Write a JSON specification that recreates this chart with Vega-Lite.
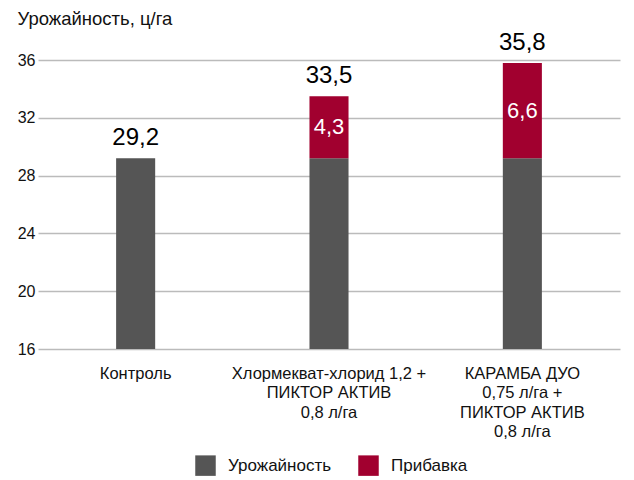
{
  "$schema": "https://vega.github.io/schema/vega-lite/v6.json",
  "width": 582,
  "height": 289,
  "autosize": {"type": "none"},
  "padding": {"left": 38, "top": 60, "right": 14, "bottom": 131},
  "background": "white",
  "config": {
    "view": {"stroke": null},
    "font": "Liberation Sans",
    "axis": {"labelFont": "Liberation Sans", "titleFont": "Liberation Sans"},
    "legend": {"labelFont": "Liberation Sans"}
  },
  "datasets": {
    "bars": [
      {"group": "Контроль", "type": "Урожайность", "ord": 1, "value": 29.2},
      {"group": "Хлормекват-хлорид 1,2 +\nПИКТОР АКТИВ\n0,8 л/га", "type": "Урожайность", "ord": 1, "value": 29.2},
      {"group": "Хлормекват-хлорид 1,2 +\nПИКТОР АКТИВ\n0,8 л/га", "type": "Прибавка", "ord": 2, "value": 4.3},
      {"group": "КАРАМБА ДУО\n0,75 л/га +\nПИКТОР АКТИВ\n0,8 л/га", "type": "Урожайность", "ord": 1, "value": 29.2},
      {"group": "КАРАМБА ДУО\n0,75 л/га +\nПИКТОР АКТИВ\n0,8 л/га", "type": "Прибавка", "ord": 2, "value": 6.6}
    ],
    "totals": [
      {"group": "Контроль", "total": 29.2, "label": "29,2"},
      {"group": "Хлормекват-хлорид 1,2 +\nПИКТОР АКТИВ\n0,8 л/га", "total": 33.5, "label": "33,5"},
      {"group": "КАРАМБА ДУО\n0,75 л/га +\nПИКТОР АКТИВ\n0,8 л/га", "total": 35.8, "label": "35,8"}
    ],
    "adds": [
      {"group": "Хлормекват-хлорид 1,2 +\nПИКТОР АКТИВ\n0,8 л/га", "mid": 31.35, "label": "4,3"},
      {"group": "КАРАМБА ДУО\n0,75 л/га +\nПИКТОР АКТИВ\n0,8 л/га", "mid": 32.5, "label": "6,6"}
    ]
  },
  "encoding": {
    "x": {
      "field": "group",
      "type": "nominal",
      "sort": null,
      "scale": {"paddingInner": 0.798, "paddingOuter": 0.404},
      "axis": {
        "title": null,
        "labelAngle": 0,
        "domain": false,
        "ticks": false,
        "labelFontSize": 16.5,
        "labelColor": "#111",
        "labelPadding": 16,
        "labelLineHeight": 19.5,
        "labelLimit": 400,
        "labelOverlap": false,
        "labelExpr": "split(datum.value, '\\n')"
      }
    }
  },
  "layer": [
    {
      "data": {"name": "bars"},
      "mark": {"type": "bar", "clip": true},
      "encoding": {
        "y": {
          "field": "value",
          "type": "quantitative",
          "stack": "zero",
          "scale": {"domain": [16, 36], "zero": false, "nice": false},
          "axis": {
            "title": "Урожайность, ц/га",
            "titleAngle": 0,
            "titleAlign": "left",
            "titleBaseline": "alphabetic",
            "titleX": -21,
            "titleY": -36,
            "titleFontSize": 18.5,
            "titleFontWeight": "normal",
            "titleColor": "#111",
            "values": [16, 20, 24, 28, 32, 36],
            "domain": false,
            "ticks": false,
            "labelFontSize": 16,
            "labelColor": "#111",
            "labelPadding": 3,
            "gridColor": "#bbbbbb",
            "gridWidth": 1.5
          }
        },
        "order": {"field": "ord"},
        "color": {
          "field": "type",
          "type": "nominal",
          "sort": ["Урожайность", "Прибавка"],
          "scale": {"domain": ["Урожайность", "Прибавка"], "range": ["#555555", "#a1002f"]},
          "legend": {
            "title": null,
            "orient": "none",
            "direction": "horizontal",
            "legendX": 157,
            "legendY": 395,
            "symbolType": "square",
            "symbolSize": 420,
            "symbolStrokeWidth": 0,
            "symbolOpacity": 1,
            "labelFontSize": 17,
            "labelColor": "#111",
            "labelOffset": 12,
            "columnPadding": 26
          }
        }
      }
    },
    {
      "data": {"name": "totals"},
      "mark": {"type": "text", "baseline": "alphabetic", "dy": -13, "fontSize": 24, "color": "#000"},
      "encoding": {
        "y": {"field": "total", "type": "quantitative"},
        "text": {"field": "label"}
      }
    },
    {
      "data": {"name": "adds"},
      "mark": {"type": "text", "baseline": "middle", "fontSize": 22, "color": "#ffffff"},
      "encoding": {
        "y": {"field": "mid", "type": "quantitative"},
        "text": {"field": "label"}
      }
    }
  ]
}
